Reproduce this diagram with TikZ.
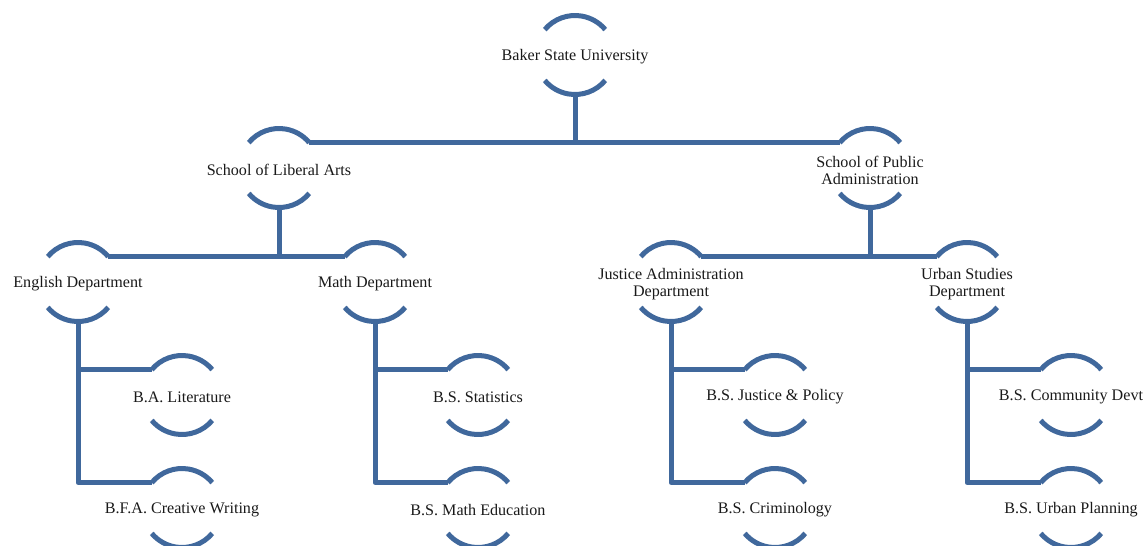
\documentclass[tikz,border=0pt]{standalone}
\usepackage{fontspec}
\setmainfont{Liberation Serif}
\definecolor{arcblue}{RGB}{64,104,156}
\tikzset{
  ring/.style={circle, minimum size=79pt, inner sep=0pt, outer sep=0pt},
  lbl/.style={align=center, font=\fontsize{16.1}{17}\selectfont, text=black!90, yshift=-2pt},
  conn/.style={draw=arcblue, line width=5pt, line join=round},
  arcline/.style={draw=arcblue, line width=5pt}
}
\begin{document}
\begin{tikzpicture}[x=1pt,y=1pt]
\useasboundingbox (0,0) rectangle (1144,-546);
\clip (0,0) rectangle (1144,-546);
% nodes
\node[ring] (baker) at (575,-55) {};
\node[ring] (lib) at (279,-168) {};
\node[ring] (pub) at (870,-168) {};
\node[ring] (eng) at (78,-282) {};
\node[ring] (math) at (375,-282) {};
\node[ring] (just) at (671,-282) {};
\node[ring] (urb) at (967,-282) {};
\node[ring] (balit) at (182,-395) {};
\node[ring] (bfa) at (182,-508) {};
\node[ring] (stat) at (478,-395) {};
\node[ring] (mathed) at (478,-508) {};
\node[ring] (jpol) at (775,-395) {};
\node[ring] (crim) at (775,-508) {};
\node[ring] (comm) at (1071,-395) {};
\node[ring] (plan) at (1071,-508) {};
% arcs
\foreach \n in {baker,lib,pub,eng,math,just,urb,balit,bfa,stat,mathed,jpol,crim,comm,plan}{
  \draw[arcline] (\n.140) arc[start angle=140, end angle=40, radius=39.5pt];
  \draw[arcline] (\n.-40) arc[start angle=-40, end angle=-140, radius=39.5pt];
}
% labels
\node[lbl] at (baker.center) {Baker State University};
\node[lbl] at (lib.center) {School of Liberal Arts};
\node[lbl] at (pub.center) {School of Public\\Administration};
\node[lbl] at (eng.center) {English Department};
\node[lbl] at (math.center) {Math Department};
\node[lbl] at (just.center) {Justice Administration\\Department};
\node[lbl] at (urb.center) {Urban Studies\\Department};
\node[lbl] at (balit.center) {B.A. Literature};
\node[lbl] at (bfa.center) {B.F.A. Creative Writing};
\node[lbl] at (stat.center) {B.S. Statistics};
\node[lbl] at (mathed.center) {B.S. Math Education};
\node[lbl] at (jpol.center) {B.S. Justice \& Policy};
\node[lbl] at (crim.center) {B.S. Criminology};
\node[lbl] at (comm.center) {B.S. Community Devt};
\node[lbl] at (plan.center) {B.S. Urban Planning};
% connectors
\draw[conn] (baker.south) -- (baker.south |- lib.40);
\draw[conn] (lib.40) -- (pub.140);
\draw[conn] (lib.south) -- (lib.south |- eng.40);
\draw[conn] (eng.40) -- (math.140);
\draw[conn] (pub.south) -- (pub.south |- just.40);
\draw[conn] (just.40) -- (urb.140);
\draw[conn] (eng.south) |- (balit.140);
\draw[conn] (eng.south) |- (bfa.140);
\draw[conn] (math.south) |- (stat.140);
\draw[conn] (math.south) |- (mathed.140);
\draw[conn] (just.south) |- (jpol.140);
\draw[conn] (just.south) |- (crim.140);
\draw[conn] (urb.south) |- (comm.140);
\draw[conn] (urb.south) |- (plan.140);
\end{tikzpicture}
\end{document}
